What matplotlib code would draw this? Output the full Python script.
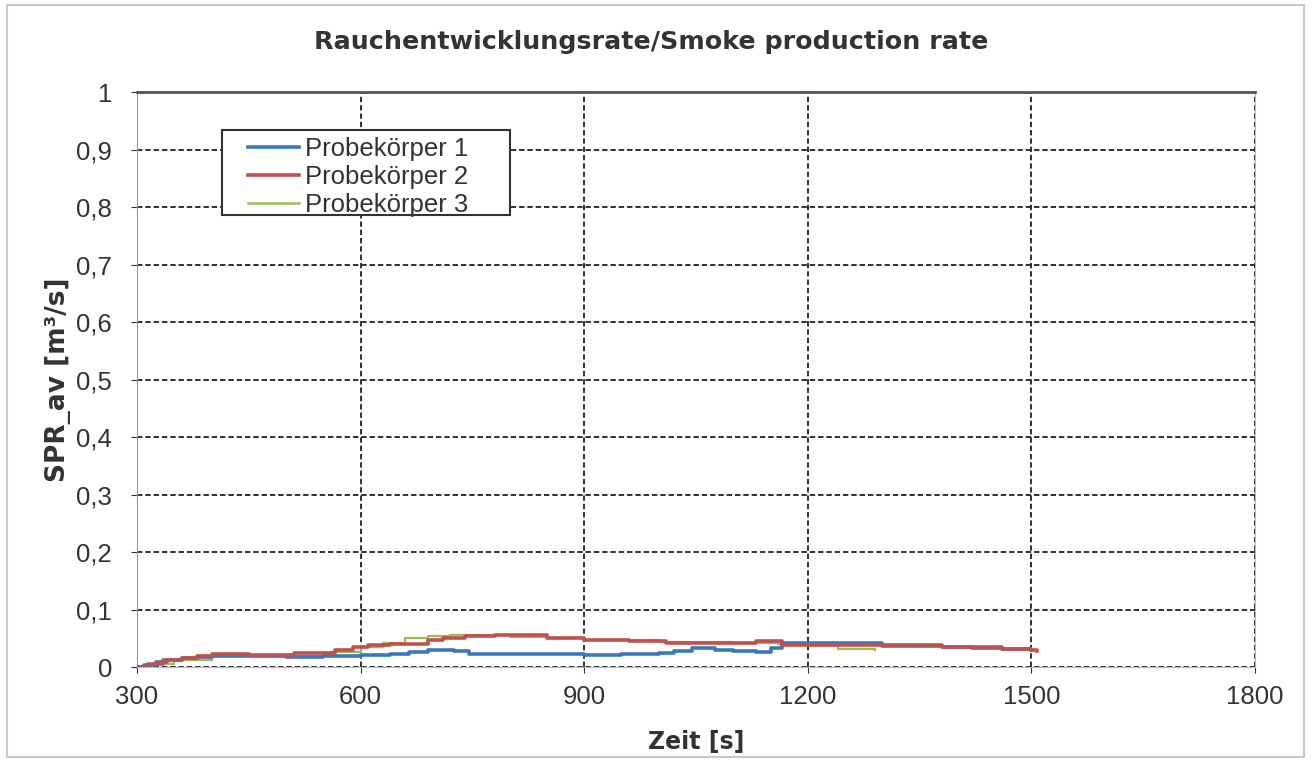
import matplotlib
matplotlib.use("Agg")
import matplotlib.pyplot as plt
from matplotlib.patches import Rectangle

plt.rcParams['font.family'] = ['Liberation Sans', 'DejaVu Sans']

# Zeit [s] / SPR_av [m²/s]
t_1 = [300, 310, 325, 340, 360, 380, 400, 450, 500, 550, 600, 640, 665, 690, 725, 745,
       780, 850, 900, 950, 1000, 1020, 1045, 1075, 1100, 1130, 1150, 1165, 1200, 1260,
       1300, 1340, 1380, 1420, 1460, 1500]
spr_1 = [0.0, 0.004, 0.008, 0.012, 0.015, 0.018, 0.02, 0.019, 0.018, 0.02, 0.021, 0.022,
         0.026, 0.03, 0.027, 0.023, 0.022, 0.023, 0.021, 0.022, 0.024, 0.028, 0.033, 0.03,
         0.027, 0.026, 0.033, 0.041, 0.042, 0.041, 0.037, 0.036, 0.034, 0.033, 0.031, 0.03]

t_2 = [300, 315, 335, 360, 380, 400, 450, 510, 565, 590, 610, 640, 690, 710, 740, 780,
       850, 900, 960, 1010, 1060, 1130, 1165, 1230, 1300, 1380, 1420, 1460, 1500, 1507]
spr_2 = [0.0, 0.006, 0.012, 0.015, 0.019, 0.023, 0.021, 0.025, 0.03, 0.035, 0.038, 0.04,
         0.047, 0.05, 0.054, 0.055, 0.05, 0.047, 0.045, 0.042, 0.041, 0.045, 0.039, 0.038,
         0.038, 0.035, 0.034, 0.032, 0.03, 0.027]

t_3 = [300, 320, 350, 400, 500, 560, 600, 630, 660, 690, 720, 760, 800, 850, 900, 1000,
       1100, 1160, 1200, 1240, 1290]
spr_3 = [0.0, 0.006, 0.013, 0.02, 0.02, 0.026, 0.034, 0.042, 0.05, 0.054, 0.056, 0.056,
         0.053, 0.05, 0.047, 0.043, 0.042, 0.04, 0.038, 0.031, 0.03]

labels = ["Probekörper 1", "Probekörper 2", "Probekörper 3"]
xticks = [300, 600, 900, 1200, 1500, 1800]
yticks = [0, 0.1, 0.2, 0.3, 0.4, 0.5, 0.6, 0.7, 0.8, 0.9, 1]
ytick_labels = ["0", "0,1", "0,2", "0,3", "0,4", "0,5", "0,6", "0,7", "0,8", "0,9", "1"]

fig = plt.figure(figsize=(13.15, 7.63), dpi=100)
fig.patches.append(Rectangle((0.005, 0.008), 0.987, 0.9856, transform=fig.transFigure,
                             fill=False, edgecolor='#c8c8c8', lw=1.5))
ax = fig.add_axes([0.1042, 0.1258, 0.8502, 0.7536])

l1, = ax.plot(t_1, spr_1, drawstyle='steps-post', color='#3a78bd', lw=2.6, zorder=3)
l2, = ax.plot(t_2, spr_2, drawstyle='steps-post', color='#c0504d', lw=2.6, zorder=4)
l3, = ax.plot(t_3, spr_3, drawstyle='steps-post', color='#9bbb59', lw=1.6, zorder=2)

ax.set_xlim(300, 1800)
ax.set_ylim(0, 1)
ax.set_xticks(xticks)
ax.set_yticks(yticks)
ax.set_yticklabels(ytick_labels)
ax.tick_params(labelsize=18.5, colors='#333333', length=4)
ax.tick_params(axis='y', pad=14)
ax.tick_params(axis='x', pad=9)
ax.grid(True, color='#222222', linestyle=(0, (3, 1.6)), lw=1.3)

ax.spines['top'].set_color('#555555')
ax.spines['top'].set_linewidth(2)
ax.spines['left'].set_color('#999999')
ax.spines['bottom'].set_color('#bbbbbb')
ax.spines['right'].set_color('#bbbbbb')

fig.text(0.495, 0.945, "Rauchentwicklungsrate/Smoke production rate", ha='center', va='center',
         fontsize=18.3, fontweight='bold', color='#333333', family='DejaVu Sans')
ax.set_xlabel("Zeit [s]", fontsize=17, fontweight='bold', color='#333333', labelpad=15,
              family='DejaVu Sans')
ax.set_ylabel("SPR_av [m³/s]", fontsize=19, fontweight='bold', color='#333333', labelpad=4,
              family='DejaVu Sans')

# legend frame drawn separately to match the wide Excel box
ax.add_patch(Rectangle((0.076, 0.786), 0.2576, 0.148, transform=ax.transAxes, fill=True,
                       facecolor='white', edgecolor='#333333', lw=1.5, zorder=5))
leg = ax.legend([l1, l2, l3], labels, loc='upper left', bbox_to_anchor=(0.0993, 0.921),
                fontsize=18.5, frameon=False, borderpad=0, labelspacing=0.15,
                handlelength=2.0, handletextpad=0.2, borderaxespad=0)
leg.set_zorder(6)
for line in leg.get_lines():
    line.set_linewidth(2.6)
leg.get_lines()[2].set_linewidth(1.8)
for txt in leg.get_texts():
    txt.set_color('#333333')

plt.savefig('out.png', dpi=100)
